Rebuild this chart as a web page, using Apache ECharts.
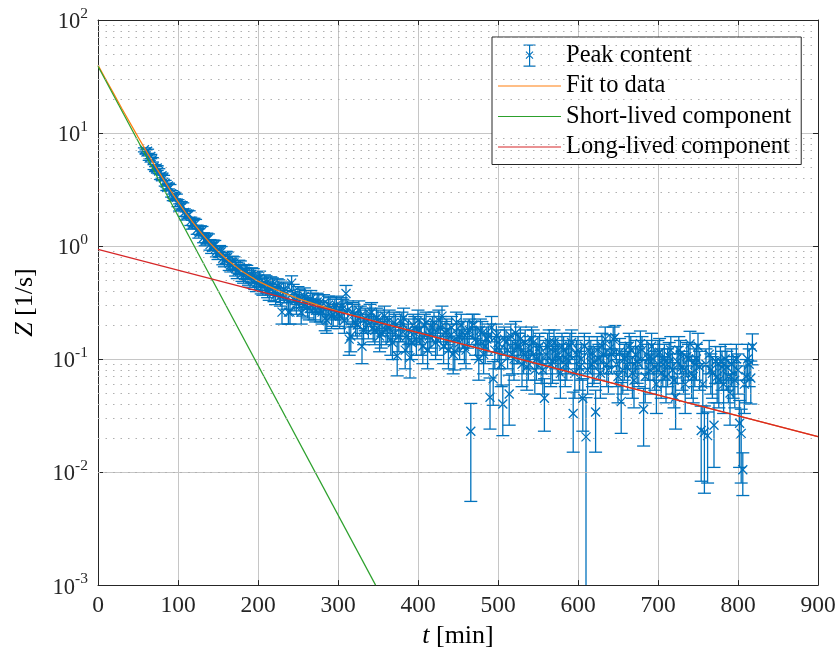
<!DOCTYPE html>
<html>
<head>
<meta charset="utf-8">
<script src="https://cdn.jsdelivr.net/npm/echarts@6/dist/echarts.min.js"></script>
<style>
  html, body { margin: 0; padding: 0; background: #fff; }
  #chart { width: 840px; height: 654px; }
</style>
</head>
<body>
<div id="chart"></div>
<script>
// measurement times: two interleaved runs, every 4 min from 58 and from 60 min
const tStartA = 58;
const tStartB = 60;
const tStep = 4;

// peak content Z [1/s], run A (58, 62, 66 ... 818 min)
const peakZA = [
  7.1, 6.9, 6.2, 5.0, 4.9, 4.1, 4.0, 3.3, 3.3, 2.7,
  2.7, 2.2, 2.25, 1.85, 1.90, 1.55, 1.58, 1.30, 1.36, 1.12,
  1.16, 0.97, 1.01, 0.86, 0.89, 0.75, 0.79, 0.68, 0.71, 0.60,
  0.65, 0.55, 0.59, 0.51, 0.55, 0.47, 0.52, 0.44, 0.47, 0.40,
  0.45, 0.37, 0.43, 0.26, 0.40, 0.26, 0.47, 0.33, 0.37, 0.26,
  0.36, 0.29, 0.34, 0.28, 0.32, 0.27, 0.31, 0.22, 0.29, 0.25,
  0.30, 0.24, 0.28, 0.38, 0.15, 0.26, 0.21, 0.27, 0.13, 0.23,
  0.20, 0.26, 0.18, 0.22, 0.17, 0.24, 0.19, 0.15, 0.21, 0.107,
  0.19, 0.23, 0.16, 0.103, 0.20, 0.15, 0.18, 0.13, 0.21, 0.16,
  0.19, 0.14, 0.22, 0.24, 0.17, 0.12, 0.19, 0.117, 0.16, 0.20,
  0.13, 0.17, 0.023, 0.20, 0.14, 0.18, 0.11, 0.15, 0.046, 0.067,
  0.16, 0.12, 0.040, 0.14, 0.049, 0.11, 0.17, 0.13, 0.09, 0.14,
  0.10, 0.15, 0.08, 0.12, 0.095, 0.045, 0.13, 0.09, 0.14, 0.11,
  0.075, 0.12, 0.10, 0.13, 0.033, 0.11, 0.085, 0.045, 0.0205, 0.12,
  0.09, 0.034, 0.10, 0.13, 0.15, 0.08, 0.11, 0.155, 0.07, 0.042,
  0.10, 0.085, 0.12, 0.065, 0.095, 0.137, 0.036, 0.11, 0.08, 0.10,
  0.06, 0.115, 0.09, 0.07, 0.105, 0.08, 0.046, 0.12, 0.085, 0.06,
  0.10, 0.075, 0.09, 0.13, 0.0233, 0.0225, 0.021, 0.08, 0.026, 0.07,
  0.095, 0.06, 0.085, 0.05, 0.075, 0.10, 0.027, 0.0105, 0.07, 0.09,
  0.128
];
const peakErrA = [
  0.29, 0.29, 0.27, 0.25, 0.24, 0.22, 0.22, 0.20, 0.20, 0.18,
  0.18, 0.16, 0.16, 0.15, 0.15, 0.14, 0.14, 0.125, 0.13, 0.115,
  0.12, 0.11, 0.11, 0.10, 0.10, 0.095, 0.097, 0.09, 0.092, 0.085,
  0.088, 0.081, 0.084, 0.078, 0.081, 0.075, 0.079, 0.073, 0.075, 0.069,
  0.073, 0.067, 0.072, 0.056, 0.069, 0.056, 0.075, 0.063, 0.067, 0.056,
  0.066, 0.059, 0.064, 0.058, 0.062, 0.057, 0.061, 0.051, 0.059, 0.055,
  0.06, 0.054, 0.058, 0.068, 0.042, 0.056, 0.05, 0.057, 0.039, 0.052,
  0.049, 0.056, 0.046, 0.051, 0.045, 0.054, 0.048, 0.042, 0.05, 0.036,
  0.048, 0.052, 0.044, 0.035, 0.049, 0.042, 0.046, 0.039, 0.05, 0.044,
  0.048, 0.041, 0.051, 0.054, 0.045, 0.038, 0.048, 0.037, 0.044, 0.049,
  0.039, 0.045, 0.0175, 0.049, 0.041, 0.046, 0.036, 0.042, 0.022, 0.028,
  0.044, 0.038, 0.019, 0.041, 0.023, 0.036, 0.045, 0.039, 0.033, 0.041,
  0.035, 0.042, 0.031, 0.038, 0.034, 0.022, 0.039, 0.033, 0.041, 0.036,
  0.03, 0.038, 0.035, 0.039, 0.018, 0.036, 0.032, 0.022, 0.025, 0.038,
  0.033, 0.019, 0.035, 0.039, 0.042, 0.031, 0.036, 0.043, 0.029, 0.02,
  0.035, 0.032, 0.038, 0.028, 0.034, 0.04, 0.019, 0.036, 0.031, 0.035,
  0.027, 0.037, 0.033, 0.029, 0.035, 0.031, 0.022, 0.038, 0.032, 0.027,
  0.035, 0.03, 0.033, 0.039, 0.015, 0.016, 0.013, 0.031, 0.015, 0.029,
  0.034, 0.027, 0.032, 0.024, 0.03, 0.035, 0.016, 0.0043, 0.029, 0.033,
  0.039
];

// run B (60, 64, 68 ... 816 min)
const peakZB = [
  6.8, 6.0, 5.8, 4.8, 4.6, 4.2, 3.6, 3.4, 2.9, 2.8,
  2.4, 2.3, 1.98, 1.92, 1.66, 1.62, 1.40, 1.38, 1.19, 1.18,
  1.03, 1.02, 0.90, 0.91, 0.78, 0.80, 0.70, 0.72, 0.63, 0.66,
  0.57, 0.60, 0.53, 0.56, 0.49, 0.51, 0.45, 0.48, 0.42, 0.46,
  0.39, 0.44, 0.36, 0.41, 0.34, 0.26, 0.39, 0.31, 0.35, 0.30,
  0.34, 0.28, 0.32, 0.27, 0.31, 0.26, 0.23, 0.30, 0.24, 0.28,
  0.25, 0.29, 0.22, 0.27, 0.16, 0.25, 0.20, 0.24, 0.18, 0.22,
  0.25, 0.19, 0.23, 0.16, 0.21, 0.18, 0.22, 0.14, 0.20, 0.16,
  0.21, 0.12, 0.18, 0.14, 0.19, 0.22, 0.15, 0.20, 0.12, 0.17,
  0.21, 0.15, 0.19, 0.13, 0.18, 0.16, 0.11, 0.21, 0.14, 0.17,
  0.12, 0.18, 0.20, 0.15, 0.10, 0.17, 0.13, 0.16, 0.19, 0.12,
  0.14, 0.09, 0.15, 0.12, 0.16, 0.10, 0.13, 0.15, 0.11, 0.085,
  0.12, 0.14, 0.10, 0.13, 0.08, 0.11, 0.14, 0.095, 0.12, 0.10,
  0.13, 0.09, 0.11, 0.14, 0.075, 0.12, 0.10, 0.13, 0.08, 0.11,
  0.095, 0.12, 0.075, 0.11, 0.09, 0.125, 0.15, 0.09, 0.115, 0.08,
  0.105, 0.13, 0.075, 0.11, 0.09, 0.12, 0.07, 0.10, 0.13, 0.085,
  0.11, 0.075, 0.10, 0.09, 0.12, 0.065, 0.095, 0.11, 0.08, 0.105,
  0.136, 0.07, 0.10, 0.085, 0.06, 0.09, 0.11, 0.075, 0.095, 0.065,
  0.085, 0.10, 0.07, 0.09, 0.065, 0.08, 0.022, 0.06, 0.10, 0.068
];
const peakErrB = [
  0.29, 0.27, 0.26, 0.24, 0.23, 0.22, 0.21, 0.20, 0.19, 0.18,
  0.17, 0.17, 0.15, 0.15, 0.14, 0.14, 0.13, 0.13, 0.12, 0.12,
  0.11, 0.11, 0.10, 0.10, 0.097, 0.098, 0.092, 0.093, 0.087, 0.089,
  0.083, 0.085, 0.08, 0.082, 0.077, 0.078, 0.073, 0.076, 0.071, 0.074,
  0.068, 0.073, 0.066, 0.07, 0.064, 0.056, 0.068, 0.061, 0.065, 0.06,
  0.064, 0.058, 0.062, 0.057, 0.061, 0.056, 0.052, 0.06, 0.054, 0.058,
  0.055, 0.059, 0.051, 0.057, 0.044, 0.055, 0.049, 0.054, 0.046, 0.051,
  0.055, 0.048, 0.052, 0.044, 0.05, 0.046, 0.051, 0.041, 0.049, 0.044,
  0.05, 0.038, 0.046, 0.041, 0.048, 0.051, 0.042, 0.049, 0.038, 0.045,
  0.05, 0.042, 0.048, 0.039, 0.046, 0.044, 0.036, 0.05, 0.041, 0.045,
  0.038, 0.046, 0.049, 0.042, 0.035, 0.045, 0.039, 0.044, 0.048, 0.038,
  0.041, 0.033, 0.042, 0.038, 0.044, 0.035, 0.039, 0.042, 0.036, 0.032,
  0.038, 0.041, 0.035, 0.039, 0.031, 0.036, 0.041, 0.034, 0.038, 0.035,
  0.039, 0.033, 0.036, 0.041, 0.03, 0.038, 0.035, 0.039, 0.031, 0.036,
  0.034, 0.038, 0.03, 0.036, 0.033, 0.039, 0.042, 0.033, 0.037, 0.031,
  0.035, 0.039, 0.03, 0.036, 0.033, 0.038, 0.029, 0.035, 0.039, 0.032,
  0.036, 0.03, 0.035, 0.033, 0.038, 0.028, 0.034, 0.036, 0.031, 0.035,
  0.04, 0.029, 0.035, 0.032, 0.027, 0.033, 0.036, 0.03, 0.034, 0.028,
  0.032, 0.035, 0.029, 0.033, 0.028, 0.031, 0.014, 0.027, 0.035, 0.028
];

// fitted curve (sum of both components)
const fitT = [0, 10, 20, 30, 40, 50, 60, 70, 80, 90, 100, 110, 120, 130, 140, 150, 160, 180, 200, 225, 250, 275, 300, 350, 400, 900];
const fitZ = [39.9, 29.6, 22.1, 16.4, 12.3, 9.25, 6.99, 5.31, 4.07, 3.15, 2.46, 1.95, 1.57, 1.28, 1.06, 0.90, 0.772, 0.597, 0.489, 0.403, 0.343, 0.300, 0.265, 0.212, 0.1715, 0.0206];

// short- and long-lived exponential components
const shortT = [0, 347];
const shortZ = [39, 0.001];
const longT = [0, 900];
const longZ = [0.935, 0.0206];

const xTicks = [0, 100, 200, 300, 400, 500, 600, 700, 800, 900];
const decades = [-3, -2, -1, 0, 1, 2];

const BLUE = '#0072bd';
const ORANGE = '#ff7f0e';
const GREEN = '#2ca02c';
const RED = '#d62728';
const AXIS = '#262626';
const FONT = "'Liberation Serif', 'Times New Roman', serif";

function errRows(t0, zs, es) {
  return zs.map((z, i) => [t0 + tStep * i, z, z - es[i], z + es[i]]);
}
const peakData = errRows(tStartA, peakZA, peakErrA).concat(errRows(tStartB, peakZB, peakErrB));

// dotted minor grid at 2..9 x 10^k
const minorGrid = [];
for (let k = decades[0]; k < decades[decades.length - 1]; k++) {
  for (let m = 2; m <= 9; m++) minorGrid.push(m * Math.pow(10, k));
}

function pairs(ts, zs) {
  return ts.map((t, i) => [t, zs[i]]);
}

function renderErr(params, api) {
  const cs = params.coordSys;
  const bottom = cs.y + cs.height;
  const t = api.value(0);
  const p = api.coord([t, api.value(1)]);
  const hi = api.coord([t, api.value(3)]);
  const loVal = api.value(2);
  const lo = loVal > 0 ? api.coord([t, loVal]) : [p[0], bottom + 20];
  const style = { stroke: BLUE, lineWidth: 1.3, fill: null };
  const cap = 6.5, cr = 4.5;
  return {
    type: 'group',
    children: [
      { type: 'line', shape: { x1: p[0], y1: hi[1], x2: p[0], y2: lo[1] }, style: style },
      { type: 'line', shape: { x1: p[0] - cap, y1: hi[1], x2: p[0] + cap, y2: hi[1] }, style: style },
      { type: 'line', shape: { x1: p[0] - cap, y1: lo[1], x2: p[0] + cap, y2: lo[1] }, style: style },
      { type: 'line', shape: { x1: p[0] - cr, y1: p[1] - cr, x2: p[0] + cr, y2: p[1] + cr }, style: style },
      { type: 'line', shape: { x1: p[0] - cr, y1: p[1] + cr, x2: p[0] + cr, y2: p[1] - cr }, style: style }
    ]
  };
}

const lineIcon = 'path://M0,0M63,24M0,11.4h63v1.2h-63z';
const errIcon = 'path://M0,0M63,24M31,1.5h1.2v21h-1.2zM25.5,1h12v1.2h-12zM25.5,22h12v1.2h-12z' +
  'M27.6,8.6l0.8,-0.8l7,7l-0.8,0.8zM34.6,7.8l0.8,0.8l-7,7l-0.8,-0.8z';

const chart = echarts.init(document.getElementById('chart'));

const option = {
  animation: false,
  backgroundColor: '#fff',
  textStyle: { fontFamily: FONT },
  grid: { left: 98, right: 22, top: 20, bottom: 68 },
  legend: {
    left: 492,
    top: 37,
    orient: 'vertical',
    align: 'left',
    padding: [6, 10, 5, 6],
    itemGap: 5.5,
    itemWidth: 63,
    itemHeight: 24,
    backgroundColor: '#fff',
    borderColor: AXIS,
    borderWidth: 1,
    borderRadius: 0,
    textStyle: { fontSize: 24.5, color: '#000', fontFamily: FONT },
    itemStyle: { borderWidth: 0 },
    data: [
      { name: 'Peak content', icon: errIcon, itemStyle: { color: BLUE } },
      { name: 'Fit to data', icon: lineIcon, itemStyle: { color: ORANGE } },
      { name: 'Short-lived component', icon: lineIcon, itemStyle: { color: GREEN } },
      { name: 'Long-lived component', icon: lineIcon, itemStyle: { color: RED } }
    ]
  },
  xAxis: [
    {
      type: 'value',
      min: xTicks[0],
      max: xTicks[xTicks.length - 1],
      interval: 100,
      name: '{i|t} [min]',
      nameLocation: 'middle',
      nameGap: 33,
      nameTextStyle: {
        fontSize: 26, color: '#000', fontFamily: FONT, verticalAlign: 'top',
        rich: { i: { fontSize: 26, fontStyle: 'italic', fontFamily: FONT, color: '#000' } }
      },
      axisLine: { lineStyle: { color: AXIS, width: 1 } },
      axisTick: { inside: true, length: 5, lineStyle: { color: AXIS } },
      axisLabel: { fontSize: 23.5, color: '#262626', margin: 9, fontFamily: FONT },
      splitLine: { show: true, lineStyle: { color: '#c6c6c6', width: 1 } }
    },
    {
      type: 'value',
      position: 'top',
      min: xTicks[0],
      max: xTicks[xTicks.length - 1],
      interval: 100,
      axisLine: { show: true, onZero: false, lineStyle: { color: AXIS, width: 1 } },
      axisTick: { show: true, inside: true, length: 5, lineStyle: { color: AXIS } },
      axisLabel: { show: false },
      splitLine: { show: false }
    }
  ],
  yAxis: [
    {
      type: 'log',
      logBase: 10,
      min: Math.pow(10, decades[0]),
      max: Math.pow(10, decades[decades.length - 1]),
      name: '{i|Z} [1/s]',
      nameLocation: 'middle',
      nameGap: 60,
      nameRotate: 90,
      nameTextStyle: {
        fontSize: 26, color: '#000', fontFamily: FONT,
        rich: { i: { fontSize: 26, fontStyle: 'italic', fontFamily: FONT, color: '#000' } }
      },
      axisLine: { show: true, lineStyle: { color: AXIS, width: 1 } },
      axisTick: { show: true, inside: true, length: 5, lineStyle: { color: AXIS } },
      axisLabel: {
        margin: 10,
        verticalAlign: 'middle',
        formatter: function (v) {
          const e = Math.round(Math.log10(v));
          return '{b|10}{s|' + e + '}';
        },
        rich: {
          b: { fontSize: 22.5, fontFamily: FONT, color: '#262626', verticalAlign: 'bottom' },
          s: { fontSize: 15.5, fontFamily: FONT, color: '#262626', verticalAlign: 'bottom', padding: [0, 0, 12, 0] }
        }
      },
      splitLine: { show: true, lineStyle: { color: '#c6c6c6', width: 1 } }
    },
    {
      type: 'log',
      logBase: 10,
      position: 'right',
      min: Math.pow(10, decades[0]),
      max: Math.pow(10, decades[decades.length - 1]),
      axisLine: { show: true, onZero: false, lineStyle: { color: AXIS, width: 1 } },
      axisTick: { show: true, inside: true, length: 5, lineStyle: { color: AXIS } },
      axisLabel: { show: false },
      splitLine: { show: false }
    }
  ],
  series: [
    {
      name: 'minor grid',
      type: 'line',
      data: [],
      z: 1,
      silent: true,
      markLine: {
        silent: true,
        symbol: ['none', 'none'],
        label: { show: false },
        emphasis: { disabled: true },
        lineStyle: { color: '#b0b0b0', type: [1.5, 6], width: 1 },
        data: minorGrid.map(v => ({ yAxis: v }))
      }
    },
    {
      name: 'Peak content',
      type: 'custom',
      z: 2,
      clip: true,
      renderItem: renderErr,
      encode: { x: 0, y: 1 },
      itemStyle: { color: BLUE },
      data: peakData
    },
    {
      name: 'Fit to data',
      type: 'line',
      z: 3,
      symbol: 'none',
      color: ORANGE,
      lineStyle: { color: ORANGE, width: 1.2 },
      data: pairs(fitT, fitZ)
    },
    {
      name: 'Short-lived component',
      type: 'line',
      z: 4,
      symbol: 'none',
      color: GREEN,
      lineStyle: { color: GREEN, width: 1.2 },
      data: pairs(shortT, shortZ)
    },
    {
      name: 'Long-lived component',
      type: 'line',
      z: 5,
      symbol: 'none',
      color: RED,
      lineStyle: { color: RED, width: 1.2 },
      data: pairs(longT, longZ)
    }
  ]
};

chart.setOption(option);
</script>
</body>
</html>
